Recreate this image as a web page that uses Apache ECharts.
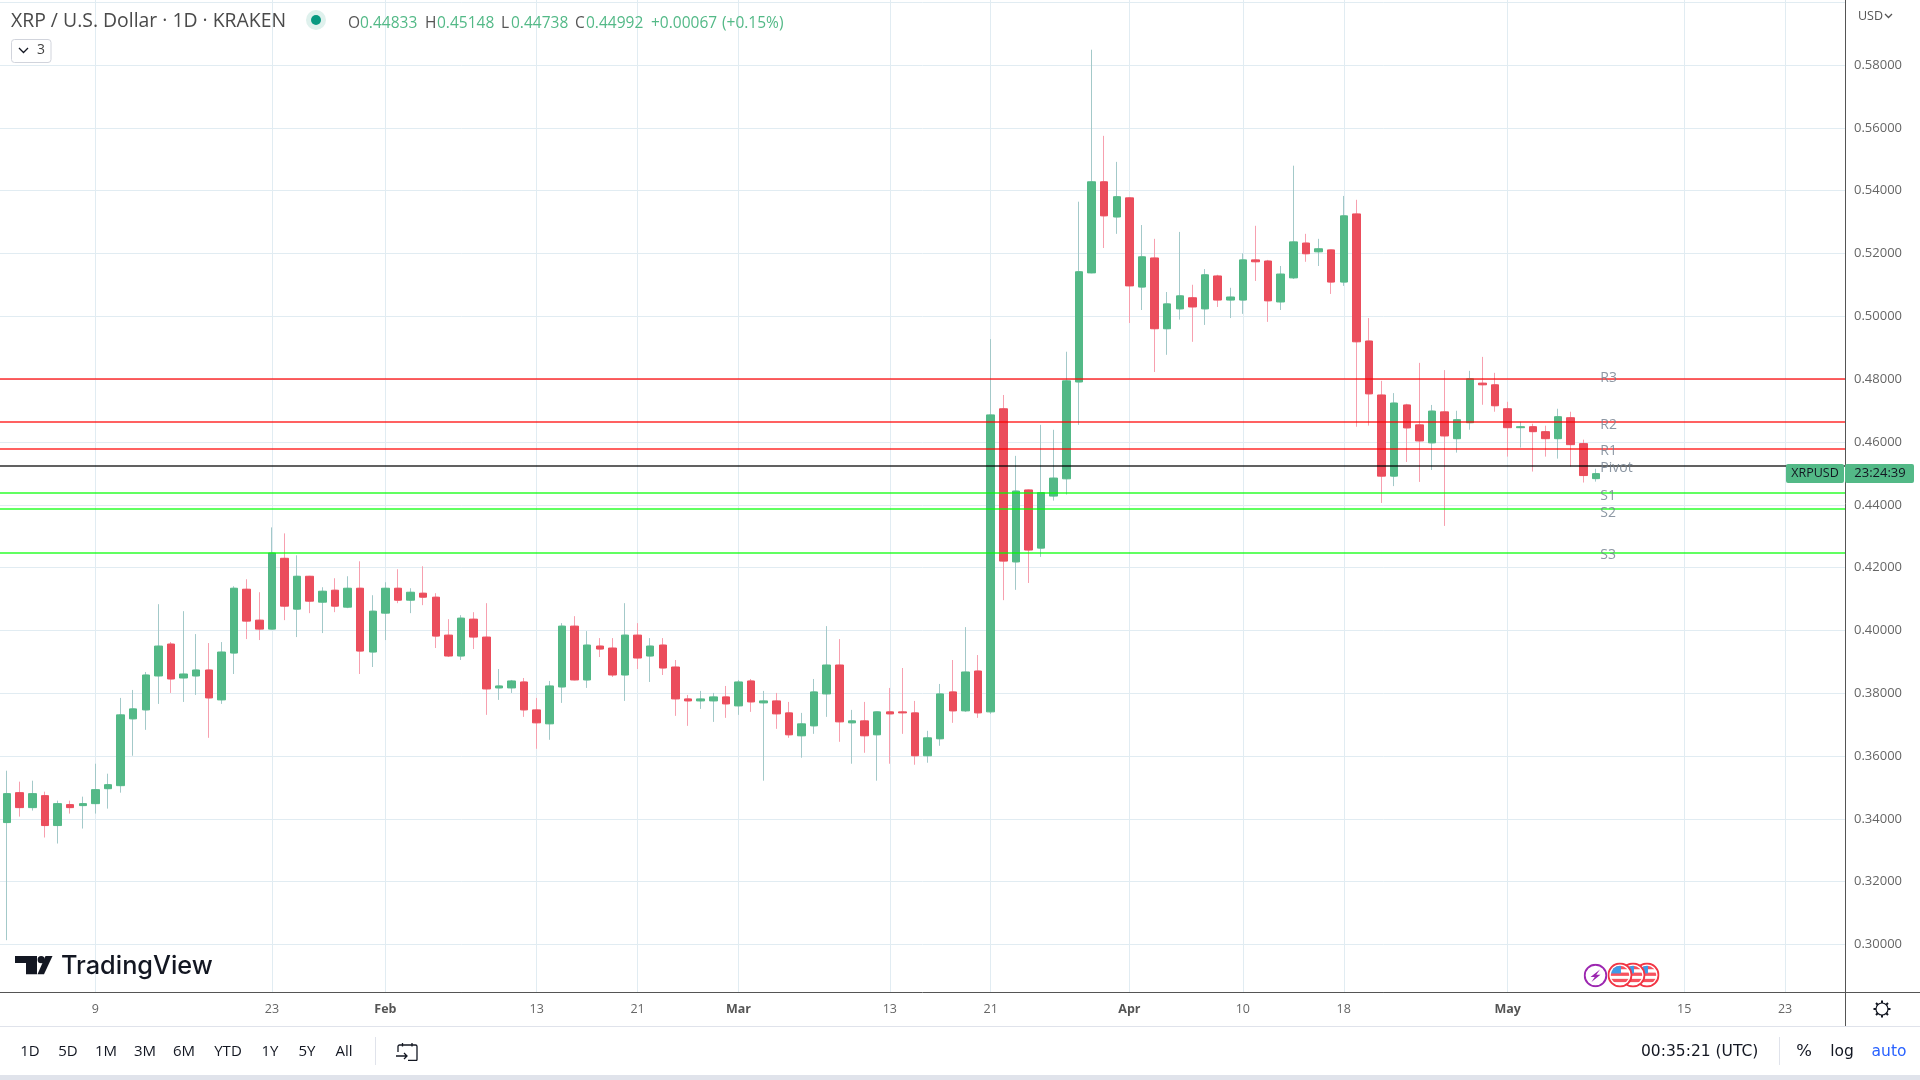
<!DOCTYPE html>
<html><head><meta charset="utf-8">
<style>html,body{margin:0;padding:0;background:#fff}#c{width:1920px;height:1080px}</style>
<script src="https://cdn.jsdelivr.net/npm/echarts@6/dist/echarts.min.js"></script>
</head><body><div id="c"></div>
<script>
// Daily XRP / USD, day index 0 = 2 Jan 2023
const opens=[.33884,.34836,.3436,.34741,.33789,.34455,.34424,.34487,.34963,.35059,.37186,.37471,.38551,.39567,.38487,.38551,.38741,.37789,.39281,.41313,.40328,.40043,.42297,.40678,.41725,.409,.41281,.40741,.41344,.39313,.40551,.41344,.40963,.41186,.41059,.39852,.39186,.4036,.39789,.3817,.3817,.3836,.37471,.37027,.38201,.40138,.38424,.39503,.3944,.38582,.39852,.39186,.39535,.38836,.3782,.37757,.37757,.37884,.37598,.38392,.37694,.37757,.37376,.36646,.36963,.37979,.389,.37059,.37122,.36678,.37408,.37408,.37376,.36011,.36551,.38043,.3744,.38709,.37408,.47057,.42182,.44473,.42621,.44278,.44827,.4791,.51383,.54283,.53162,.53771,.50932,.51858,.49604,.50237,.50591,.50237,.51285,.50518,.50518,.51797,.51761,.50457,.51224,.52333,.52053,.52114,.51091,.5326,.49214,.47496,.44912,.47179,.46545,.45972,.46959,.46105,.46613,.47873,.4782,.47058,.46455,.46486,.46328,.46105,.46772,.45947,.44833];
const closes=[.34805,.3436,.34805,.33789,.34487,.3436,.34487,.34932,.3509,.37313,.37503,.38582,.39503,.38455,.38614,.38741,.37852,.39313,.41344,.40297,.40043,.42466,.40773,.41725,.40932,.41249,.40773,.41344,.39344,.40614,.41344,.40963,.41217,.41059,.39821,.39186,.40392,.39789,.38138,.38233,.38392,.37471,.37059,.38233,.40138,.38424,.39535,.39408,.38582,.39852,.39122,.39503,.38805,.3782,.37757,.3782,.37884,.37662,.3836,.37725,.37757,.37344,.36678,.37027,.38043,.389,.3709,.37122,.36646,.37408,.37344,.37376,.36011,.36582,.37979,.3744,.38678,.37376,.46862,.42207,.44437,.4256,.44388,.44851,.47946,.51419,.54283,.53199,.53808,.50969,.51895,.49604,.50396,.50652,.50298,.51322,.50518,.50615,.51797,.51736,.50493,.51346,.5237,.51992,.52151,.51091,.53199,.49189,.47532,.44912,.4724,.46448,.46033,.46984,.46192,.46709,.4801,.4782,.47153,.46455,.46486,.46328,.46105,.46804,.45915,.44931,.44992];
const lows=[.3014,.34074,.34265,.33408,.33217,.3417,.33694,.3417,.34328,.34836,.36011,.36836,.37662,.38011,.37725,.37948,.36582,.37662,.38614,.39725,.39694,.40043,.40328,.39789,.40551,.39916,.40582,.40709,.38614,.38836,.39694,.40868,.40551,.40805,.3944,.39154,.39059,.39408,.37313,.37789,.38011,.37249,.36233,.36519,.37694,.38424,.3817,.39154,.38519,.37757,.38773,.3836,.38582,.37281,.36963,.37503,.3709,.37217,.37313,.37408,.35217,.36868,.36582,.35948,.36709,.37249,.36455,.35757,.36106,.35217,.35757,.36709,.35725,.35789,.36328,.37059,.37408,.37217,.37344,.40964,.41293,.41512,.42341,.44132,.44327,.46545,.51383,.52175,.52626,.49787,.50201,.48227,.48775,.49896,.49189,.49726,.50298,.49945,.50079,.51127,.49823,.50201,.51188,.51736,.51602,.50713,.50969,.46484,.46521,.44059,.44595,.45363,.44729,.45107,.43328,.45661,.46391,.47185,.46963,.45534,.4582,.45058,.45534,.4547,.45216,.44709,.44738];
const highs=[.35535,.35186,.35217,.34868,.34582,.34582,.34709,.35757,.3544,.37852,.38106,.38678,.40836,.3963,.40614,.39884,.39598,.3963,.41408,.4163,.41217,.43281,.4309,.42392,.41725,.41376,.41662,.41725,.42201,.41122,.41535,.41948,.41344,.42043,.41186,.4036,.40487,.40582,.40868,.38773,.38424,.38487,.37852,.38392,.40233,.40455,.39979,.39757,.39757,.40868,.40233,.39757,.39757,.39059,.37948,.38075,.38011,.38233,.38424,.38455,.38075,.38011,.37725,.37376,.38455,.40138,.39725,.37471,.37725,.37408,.3817,.38805,.37757,.36805,.38297,.39059,.40106,.39217,.49275,.47496,.45558,.44473,.46545,.46387,.48873,.53649,.58487,.55745,.54917,.53771,.52906,.52467,.50774,.52687,.51005,.51505,.51322,.50908,.52004,.52882,.51797,.51602,.54795,.52626,.52467,.52114,.53832,.5371,.49945,.47946,.47556,.47215,.48519,.47179,.48288,.46994,.48264,.48709,.48201,.4728,.46645,.46582,.46518,.47058,.46963,.46074,.45148];

// Floor-trader pivot levels
const levelNames=['R3','R2','R1','Pivot','S1','S2','S3'];
const levelValues=[.48004,.46635,.45776,.45244,.44385,.43875,.42474];
const levelLabelNudge=[-1,3,2.5,2.5,3,4,2.5];

// Tick labels: index of the day and its label
const xTickIndex=[7,21,30,42,50,58,70,78,89,98,106,119,133,141];
const xTickLabel=['9','23','Feb','13','21','Mar','13','21','Apr','10','18','May','15','23'];
const xTickBold=['Feb','Mar','Apr','May'];
const priceMin=.28, priceMax=.6007, priceStep=.02, plotFloor=.2849;
const rangeButtons=['1D','5D','1M','3M','6M','YTD','1Y','5Y','All'];

const GREEN='#53b987',RED='#eb4d5c',WICK_G='#a3c9c9',WICK_R='#f7a0af',GRID='#e1ecf2';
const UI='"Open Sans",sans-serif';
const UI_FAMILY='Open Sans';

const wicks=opens.map((o,i)=>[i,o,closes[i],lows[i],highs[i]]);
const bodies=opens.map((o,i)=>[i,o,closes[i],Math.min(o,closes[i]),Math.max(o,closes[i])]);
const levelColor=n=>n[0]==='R'?'#ff0000':n[0]==='S'?'#00ff00':'#000000';

const chart=echarts.init(document.getElementById('c'),null,{renderer:'canvas'});

const svg=s=>'data:image/svg+xml;charset=utf-8,'+encodeURIComponent(s);
const flag=svg(`<svg xmlns="http://www.w3.org/2000/svg" width="100" height="100" viewBox="0 0 26 26"><defs><clipPath id="k"><circle cx="13" cy="13" r="9.6"/></clipPath></defs><circle cx="13" cy="13" r="12" fill="#fff" stroke="#f23645" stroke-width="2"/><g clip-path="url(#k)"><rect width="26" height="26" fill="#fff"/><rect y="3" width="26" height="4" fill="#f7525f"/><rect y="10.5" width="26" height="3.4" fill="#f7525f"/><rect y="17" width="26" height="3.4" fill="#f7525f"/><rect x="3" y="3" width="11" height="8.4" fill="#3f9be8"/></g></svg>`);
const bolt=svg(`<svg xmlns="http://www.w3.org/2000/svg" width="100" height="100" viewBox="0 0 24 24"><circle cx="12" cy="12" r="10.8" fill="#fff" stroke="#9c27b0" stroke-width="1.9"/><path d="M16.5 6 L7 13.4 H11.2 L8 18.5 L17 11.2 H12.8 Z" fill="#9c27b0"/></svg>`);
const cal=svg(`<svg xmlns="http://www.w3.org/2000/svg" width="88" height="76" viewBox="0 0 22 19" fill="none" stroke="#131722" stroke-width="1.3"><path d="M2 10V4.5A1.5 1.5 0 0 1 3.5 3H19.5A1.5 1.5 0 0 1 21 4.5V17.5A1 1 0 0 1 20 18.5H12"/><path d="M6.5 1V4.5M16 1V4.5"/><path d="M0 14H11M8 11L11 14L8 17"/></svg>`);
const gear=svg(`<svg xmlns="http://www.w3.org/2000/svg" width="80" height="80" viewBox="0 0 20 20" fill="none" stroke="#131722" stroke-width="1.2"><circle cx="10" cy="10" r="6"/><g stroke-width="2"><path d="M10 1.5V4M10 16V18.5M1.5 10H4M16 10H18.5M4 4L5.7 5.7M14.3 14.3L16 16M16 4L14.3 5.7M5.7 14.3L4 16"/></g></svg>`);

const T=(text,x,y,font,fill,align)=>({type:'text',silent:true,z:50,style:{text,x,y,font,fill,align:align||'left',verticalAlign:'middle'}});
const L=(x1,y1,x2,y2,stroke,w)=>({type:'line',silent:true,z:49,shape:{x1,y1,x2,y2},style:{stroke,lineWidth:w||1}});
const img=(image,x,y,width,height)=>({type:'image',silent:true,z:50,style:{image,x,y,width,height}});
const RB=(x,y,width,height,fill,r,stroke)=>({type:'rect',silent:true,z:48,shape:{x,y,width,height,r:r||0},style:{fill,stroke:stroke||null}});
const chev=(x,y,w,h,c)=>({type:'polyline',silent:true,z:50,shape:{points:[[x,y],[x+w/2,y+h],[x+w,y]]},style:{stroke:c,lineWidth:1.3,fill:null}});

const headerFont='19.4px '+UI, ohlcFont='15.5px '+UI;
const buttonX=[30,68,106,145,184,228,270,307,344];
const graphics=[
  // toolbar band and panels
  L(1845.5,1007,1845.5,1026,'#555'),
  L(1845,992.5,1920,992.5,'#555'),
  L(0,1026.5,1920,1026.5,'#e0e3eb'),
  RB(0,1075,1920,5,'#e0e3eb'),
  L(375.5,1037,375.5,1065,'#e0e3eb'),
  L(1779.5,1037,1779.5,1065,'#e0e3eb'),
  // header
  T('XRP / U.S. Dollar · 1D · KRAKEN',11,21.5,headerFont,'#4a4a4a'),
  {type:'circle',silent:true,z:50,shape:{cx:316,cy:20,r:10},style:{fill:'#dff1ed'}},
  {type:'circle',silent:true,z:51,shape:{cx:316,cy:20,r:5},style:{fill:'#089981'}},
  T('O',348,23.5,ohlcFont,'#555'),T('0.44833',360,23.5,ohlcFont,GREEN),
  T('H',425,23.5,ohlcFont,'#555'),T('0.45148',437,23.5,ohlcFont,GREEN),
  T('L',501,23.5,ohlcFont,'#555'),T('0.44738',511,23.5,ohlcFont,GREEN),
  T('C',575,23.5,ohlcFont,'#555'),T('0.44992',586,23.5,ohlcFont,GREEN),
  T('+0.00067',651,23.5,ohlcFont,GREEN),T('(+0.15%)',722,23.5,ohlcFont,GREEN),
  RB(11.5,39.5,39.5,23,'#fff',3,'#d1d4dc'),
  chev(19,48,9,4.5,'#131722'),T('3',37,50,'14px '+UI,'#444'),
  // currency
  T('USD',1858,16,'12.5px '+UI,'#555'),chev(1885,14,7,3.5,'#555'),
  // price tag
  RB(1786,464,58,19,GREEN,2),RB(1845,464,69,19,GREEN,2),
  T('XRPUSD',1815,473.5,'12.5px '+UI,'#131722','center'),
  T('23:24:39',1880,473.5,'13px '+UI,'#131722','center'),
  // logo
  {type:'polygon',silent:true,z:50,shape:{points:[[15,956],[37,956],[37,974.3],[26,974.3],[26,963],[15,963]]},style:{fill:'#131722'}},
  {type:'circle',silent:true,z:50,shape:{cx:41.2,cy:959.7,r:3.6},style:{fill:'#131722'}},
  {type:'polygon',silent:true,z:50,shape:{points:[[45.5,956],[52.5,956],[44,974.3],[37.5,974.3]]},style:{fill:'#131722'}},
  T('TradingView',61,966,'500 25.3px Inter,sans-serif','#131722'),
  // events
  img(flag,1634.5,962.5,25,25),img(flag,1620.5,962.5,25,25),img(flag,1607.5,962.5,25,25),img(bolt,1583.5,963.5,24,24),
  // bottom toolbar
  img(cal,396,1042,22,19),img(gear,1872,999,20,20),
  T('00:35:21 (UTC)',1641,1052,'15.5px "DejaVu Sans"','#131722'),
  T('%',1804,1052,'16.5px "DejaVu Sans"','#131722','center'),
  T('log',1842,1052,'15.5px "DejaVu Sans"','#131722','center'),
  T('auto',1889,1052,'15.5px "DejaVu Sans"','#2962ff','center'),
];
rangeButtons.forEach((t,i)=>graphics.push(T(t,buttonX[i],1052,'15px '+UI,'#131722','center')));

chart.setOption({
  animation:false,
  backgroundColor:'#fff',
  grid:{left:0,right:75,top:0,height:1007.4},
  xAxis:{type:'value',min:-0.563,max:145.75,offset:-15,
    axisLine:{show:true,onZero:false,lineStyle:{color:'#555',width:1}},axisTick:{show:false},splitLine:{show:false},
    axisLabel:{customValues:xTickIndex,margin:11,hideOverlap:false,
      formatter:v=>{const s=xTickLabel[xTickIndex.indexOf(v)];return xTickBold.includes(s)?'{b|'+s+'}':'{n|'+s+'}';},
      rich:{n:{fontFamily:UI_FAMILY,fontSize:12.5,color:'#666'},b:{fontFamily:UI_FAMILY,fontSize:12.5,fontWeight:700,color:'#555'}}}},
  yAxis:{type:'value',position:'right',min:priceMin,max:priceMax,interval:priceStep,
    axisLine:{show:true,onZero:false,lineStyle:{color:'#555',width:1}},axisTick:{show:false},
    splitLine:{show:true,showMinLine:false,showMaxLine:false,lineStyle:{color:GRID,width:1}},
    axisLabel:{margin:9,fontFamily:UI_FAMILY,fontSize:13,color:'#666',padding:[3,0,0,0],showMinLabel:false,showMaxLabel:false,
      formatter:v=>(v<.29||v>.59)?'':v.toFixed(5)}},
  series:[
    {name:'XRPUSD wicks',type:'candlestick',data:wicks,barWidth:3,z:2,silent:true,
     itemStyle:{color:WICK_G,color0:WICK_R,borderColor:WICK_G,borderColor0:WICK_R,borderWidth:1},
     markLine:{silent:true,z:1,symbol:'none',animation:false,label:{show:false},
       lineStyle:{color:GRID,width:1,type:'solid'},
       data:xTickIndex.map(i=>[{coord:[i,plotFloor]},{coord:[i,priceMax]}])}},
    {name:'XRPUSD',type:'candlestick',data:bodies,barWidth:8,z:3,silent:true,
     itemStyle:{color:GREEN,color0:RED,borderColor:GREEN,borderColor0:RED,borderWidth:1,borderColorDoji:GREEN},
     markLine:{silent:true,z:5,symbol:'none',animation:false,precision:5,label:{show:false},
       data:levelValues.map((v,i)=>({yAxis:v,lineStyle:{color:levelColor(levelNames[i]),width:1.8,opacity:.62,type:'solid'}}))}},
    {name:'Pivot labels',type:'scatter',z:6,silent:true,symbolSize:0,
     data:levelValues.map((v,i)=>({value:[126.35,v],name:levelNames[i],label:{offset:[0,levelLabelNudge[i]]}})),
     label:{show:true,position:'right',distance:0,formatter:'{b}',fontFamily:UI_FAMILY,fontSize:14,color:'#6f7d8c'}}
  ],
  graphic:{elements:graphics}
});
</script></body></html>
